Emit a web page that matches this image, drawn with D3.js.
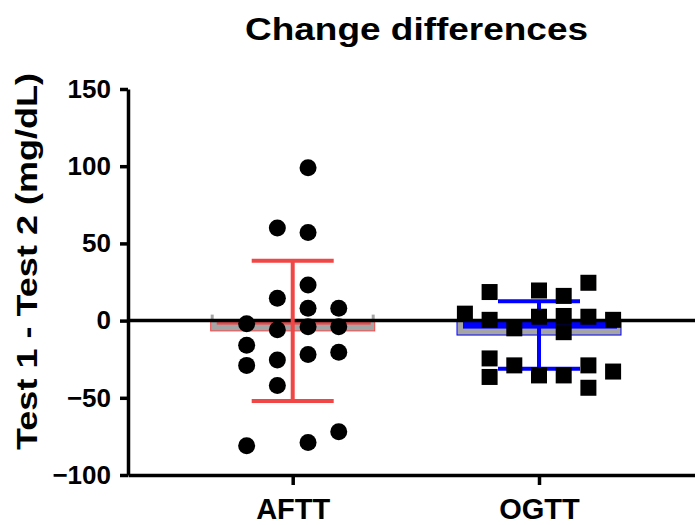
<!DOCTYPE html>
<html>
<head>
<meta charset="utf-8">
<script src="https://cdn.jsdelivr.net/npm/d3@7"></script>
<style>
  html, body { margin: 0; padding: 0; background: #fff; }
  svg { display: block; font-family: "Liberation Sans", Arial, sans-serif; font-weight: bold; }
</style>
</head>
<body>
<div class="d3-wrapper"></div>
<script>
// data
const groups = ['AFTT', 'OGTT'];
const afttValues = [99, 60, 57, 23, 14.5, 8, 8, -2, -6, -4, -4, -16, -29, -25.5, -22, -20.5, -42, -81, -79, -72];
const afttLanes = [0.5, -0.5, 0.5, 0.5, -0.5, 0.5, 1.5, -1.5, -0.5, 0.5, 1.5, -1.5, -1.5, -0.5, 0.5, 1.5, -0.5, -1.5, 0.5, 1.5];
const ogttValues = [18.5, 19.5, 16, 24.5, 4.5, 0.5, 2.5, 3, 2.5, 0.5, -5, -7.5, -24.5, -36.5, -29, -35.5, -35.5, -29, -43.5, -33];
const ogttLanes = [-2, 0, 1, 2, -3, -2, 0, 1, 2, 3, -1, 1, -2, -2, -1, 0, 1, 2, 2, 3];
const yTicks = [-100, -50, 0, 50, 100, 150];

const WIDTH = 695, HEIGHT = 525;
const FRAME = { left: 128, right: 703.7, top: 89, bottom: 475 };

const STYLE = {
  AFTT: { color: '#f04646', laneGap: 30.7, shape: 'circle', innerH: 2.5, innerOff: 1.5 },
  OGTT: { color: '#0000ff', laneGap: 24.7, shape: 'square', innerH: 7, innerOff: 1 }
};
const BAR_WIDTH = 164, CAP_WIDTH = 82, MARK = 17;

const series = [
  { name: 'AFTT', values: afttValues, lanes: afttLanes },
  { name: 'OGTT', values: ogttValues, lanes: ogttLanes }
];
series.forEach(s => {
  s.mean = d3.mean(s.values);
  s.sd = d3.deviation(s.values);
});

const xScale = d3.scalePoint().domain(groups).range([FRAME.left, FRAME.right]).padding(0.6687);
const yScale = d3.scaleLinear().domain([-100, 150]).range([FRAME.bottom, FRAME.top]);

const svg = d3.select('.d3-wrapper').append('svg')
  .attr('width', WIDTH)
  .attr('height', HEIGHT);

// mean bars
const bars = svg.selectAll('.bar')
  .data(series)
  .enter().append('g')
  .attr('class', 'bar');

bars.append('rect')
  .attr('x', d => xScale(d.name) - BAR_WIDTH / 2)
  .attr('y', yScale(0))
  .attr('width', BAR_WIDTH)
  .attr('height', d => yScale(d.mean) - yScale(0))
  .style('fill', '#a5a5a5')
  .style('stroke', d => STYLE[d.name].color)
  .style('stroke-width', 1);

// little tabs at the top corners of the bars
[-1, 1].forEach(side => {
  bars.append('rect')
    .attr('x', d => xScale(d.name) + side * BAR_WIDTH / 2 - (side > 0 ? 3 : 0))
    .attr('y', yScale(0) - 6)
    .attr('width', 3)
    .attr('height', 7)
    .style('fill', '#a5a5a5');
});

bars.append('rect')
  .attr('x', d => xScale(d.name) - BAR_WIDTH / 2 + 6)
  .attr('y', d => yScale(0) + STYLE[d.name].innerOff)
  .attr('width', BAR_WIDTH - 10)
  .attr('height', d => STYLE[d.name].innerH)
  .style('fill', d => STYLE[d.name].color);

// zero line
svg.append('line')
  .attr('x1', FRAME.left)
  .attr('x2', WIDTH)
  .attr('y1', yScale(0))
  .attr('y2', yScale(0))
  .style('stroke', '#000')
  .style('stroke-width', 3.5);

// axes
const yAxis = d3.axisLeft(yScale).tickValues(yTicks).tickSize(8).tickSizeOuter(0).tickPadding(9);
const xAxis = d3.axisBottom(xScale).tickSize(10).tickSizeOuter(0).tickPadding(13);

const gy = svg.append('g')
  .attr('id', 'y-axis')
  .attr('transform', `translate(${FRAME.left},0)`)
  .call(yAxis);
gy.selectAll('text').style('font-size', '26px').style('fill', '#000');

const gx = svg.append('g')
  .attr('id', 'x-axis')
  .attr('transform', `translate(0,${FRAME.bottom})`)
  .call(xAxis);
gx.selectAll('text').style('font-size', '29px').style('fill', '#000');

svg.selectAll('.domain, .tick line')
  .style('stroke', '#000')
  .style('stroke-width', 3.5);

// error bars (mean +/- SD)
const err = svg.selectAll('.err')
  .data(series)
  .enter().append('g')
  .attr('class', 'err')
  .style('stroke', d => STYLE[d.name].color)
  .style('stroke-width', 4);

err.append('line')
  .attr('x1', d => xScale(d.name))
  .attr('x2', d => xScale(d.name))
  .attr('y1', d => yScale(d.mean + d.sd))
  .attr('y2', d => yScale(d.mean - d.sd));

[1, -1].forEach(dir => {
  err.append('line')
    .attr('x1', d => xScale(d.name) - CAP_WIDTH / 2)
    .attr('x2', d => xScale(d.name) + CAP_WIDTH / 2)
    .attr('y1', d => yScale(d.mean + dir * d.sd))
    .attr('y2', d => yScale(d.mean + dir * d.sd));
});

// points
series.forEach(s => {
  const st = STYLE[s.name];
  const pts = s.values.map((v, i) => ({ v, x: xScale(s.name) + s.lanes[i] * st.laneGap }));
  if (st.shape === 'circle') {
    svg.selectAll('.dot-' + s.name)
      .data(pts)
      .enter().append('circle')
      .attr('class', 'dot-' + s.name)
      .attr('cx', d => d.x)
      .attr('cy', d => yScale(d.v))
      .attr('r', MARK / 2)
      .style('fill', '#000');
  } else {
    svg.selectAll('.dot-' + s.name)
      .data(pts)
      .enter().append('rect')
      .attr('class', 'dot-' + s.name)
      .attr('x', d => d.x - MARK / 2 + 0.5)
      .attr('y', d => yScale(d.v) - MARK / 2 + 0.5)
      .attr('width', MARK - 1)
      .attr('height', MARK - 1)
      .style('fill', '#000');
  }
});

// titles
svg.append('text')
  .attr('x', 416.5)
  .attr('y', 39.5)
  .attr('text-anchor', 'middle')
  .attr('textLength', 343)
  .attr('lengthAdjust', 'spacingAndGlyphs')
  .style('font-size', '32px')
  .text('Change differences');

svg.append('text')
  .attr('transform', 'rotate(-90)')
  .attr('x', -261.5)
  .attr('y', 37)
  .attr('text-anchor', 'middle')
  .attr('textLength', 377)
  .attr('lengthAdjust', 'spacingAndGlyphs')
  .style('font-size', '29px')
  .text('Test 1 - Test 2 (mg/dL)');
</script>
</body>
</html>
